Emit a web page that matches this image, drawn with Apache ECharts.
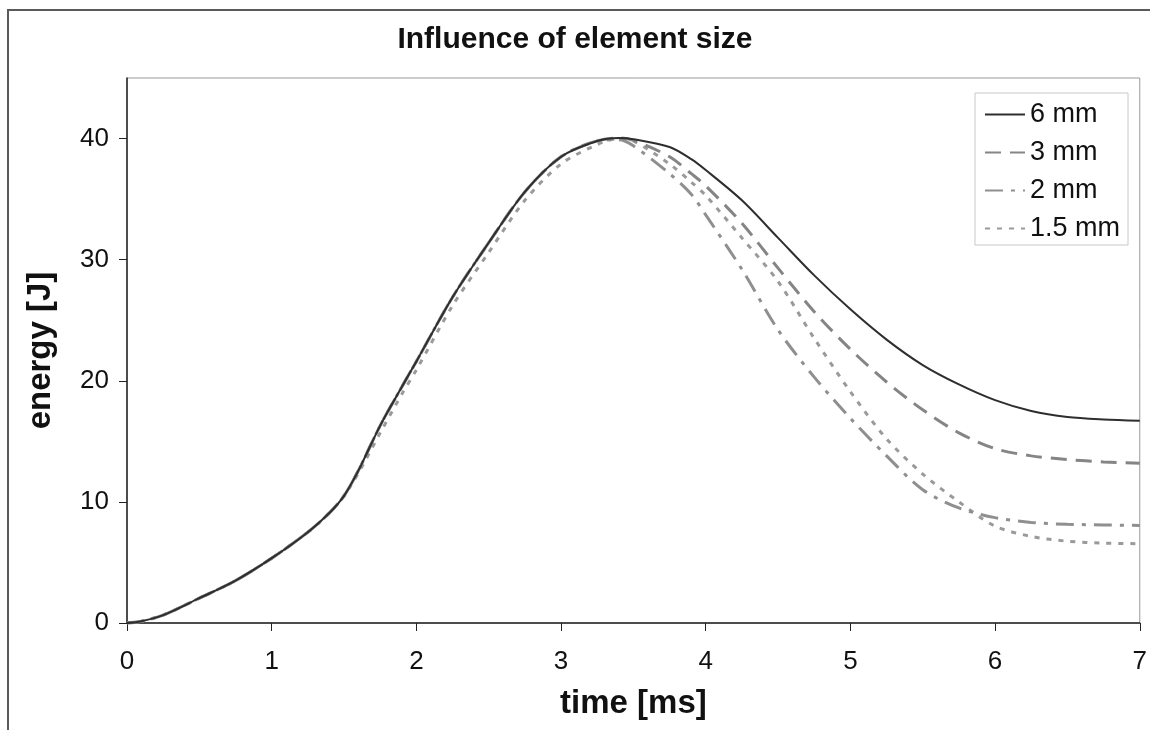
<!DOCTYPE html>
<html>
<head>
<meta charset="utf-8">
<script src="https://cdn.jsdelivr.net/npm/echarts@6/dist/echarts.min.js"></script>
<style>
html,body{margin:0;padding:0;background:#fff;}
#chart{width:1150px;height:730px;}
</style>
</head>
<body>
<div id="chart"></div>
<script>
// time [ms]
const timeMs = [0,0.1,0.25,0.5,0.75,1,1.25,1.4,1.5,1.6,1.75,1.9,2,2.25,2.5,2.75,3,3.25,3.4,3.5,3.75,3.9,4,4.25,4.5,4.75,5,5.25,5.5,5.75,6,6.25,6.5,6.75,7];
// energy [J]
const e6mm  = [0,0.15,0.65,2.05,3.5,5.35,7.5,9.1,10.5,12.6,16.3,19.5,21.6,26.9,31.4,35.6,38.5,39.8,40.05,39.95,39.3,38.3,37.4,34.9,31.8,28.7,25.9,23.4,21.3,19.7,18.4,17.5,17.0,16.8,16.7];
const e3mm  = [0,0.15,0.65,2.05,3.5,5.35,7.5,9.1,10.5,12.6,16.3,19.5,21.6,26.9,31.4,35.6,38.5,39.8,40.05,39.85,38.5,37.1,36.1,33.0,29.3,25.7,22.6,19.9,17.6,15.7,14.4,13.8,13.5,13.3,13.2];
const e2mm  = [0,0.15,0.65,2.05,3.5,5.35,7.5,9.1,10.5,12.6,16.3,19.5,21.6,26.9,31.4,35.6,38.5,39.8,39.9,39.4,37.1,35.4,33.7,29.2,24.2,20.3,16.9,13.8,11.0,9.5,8.7,8.3,8.15,8.1,8.05];
const e15mm = [0,0.15,0.65,2.05,3.5,5.35,7.5,9.1,10.5,12.4,15.7,18.9,20.9,26.2,30.6,34.9,37.9,39.5,40.0,39.8,37.9,36.4,35.3,31.8,28.2,23.5,19.1,15.2,12.3,10.0,8.0,7.15,6.75,6.6,6.55];
const seriesNames = ['6 mm','3 mm','2 mm','1.5 mm'];
const xTicks = [0,1,2,3,4,5,6,7];
const yTicks = [0,10,20,30,40];

const pair = arr => timeMs.map((t,i)=>[t,arr[i]]);
const styles = [
  {color:'#2e2e2e', width:2, type:'solid'},
  {color:'#858585', width:3, type:[16,9]},
  {color:'#8f8f8f', width:3, type:[18,8,4,8]},
  {color:'#9a9a9a', width:3, type:[5,7]}
];
const dataSets = [e6mm,e3mm,e2mm,e15mm];

const chart = echarts.init(document.getElementById('chart'));
chart.setOption({
  animation:false,
  backgroundColor:'#fff',
  textStyle:{fontFamily:'Liberation Sans, Arial, sans-serif'},
  title:{
    text:'Influence of element size',
    left:'center', top:20,
    textStyle:{fontSize:30, fontWeight:'bold', color:'#111', fontFamily:'Liberation Sans, Arial, sans-serif'}
  },
  graphic:[{
    type:'polyline',
    shape:{points:[[8,730],[8,10],[1150,10]]},
    style:{stroke:'#5a5a5a', lineWidth:2, fill:null}
  }],
  legend:{
    orient:'vertical',
    right:22, top:93,
    itemWidth:40, itemHeight:14, itemGap:11,
    padding:[8,8,3,9],
    borderColor:'#c8c8c8', borderWidth:1,
    itemStyle:{opacity:0},
    textStyle:{fontSize:27, color:'#111'},
    data:seriesNames
  },
  grid:{left:127, right:9, top:78, bottom:107, show:true, borderColor:'#9a9a9a', borderWidth:1},
  xAxis:{
    type:'value', min:0, max:7, interval:1,
    name:'time [ms]', nameLocation:'middle', nameGap:64,
    nameTextStyle:{fontSize:33, fontWeight:'bold', color:'#111'},
    axisLine:{show:true, lineStyle:{color:'#222', width:1.5}},
    axisTick:{show:true, inside:false, length:8, lineStyle:{color:'#222'}},
    axisLabel:{fontSize:26, color:'#111', margin:26},
    splitLine:{show:false}
  },
  yAxis:{
    type:'value', min:0, max:45, interval:10,
    name:'energy [J]', nameLocation:'middle', nameGap:70, nameRotate:90,
    nameTextStyle:{fontSize:33, fontWeight:'bold', color:'#111'},
    axisLine:{show:true, lineStyle:{color:'#222', width:1.5}},
    axisTick:{show:true, inside:false, length:8, lineStyle:{color:'#222'}},
    axisLabel:{fontSize:26, color:'#111', margin:18, showMaxLabel:false},
    splitLine:{show:false}
  },
  series: seriesNames.map((n,i)=>({
    name:n, type:'line', data:pair(dataSets[i]),
    showSymbol:false, symbol:'none', smooth:0.3,
    lineStyle:styles[i], itemStyle:{color:styles[i].color},
    z: 10-i
  }))
});
</script>
</body>
</html>
